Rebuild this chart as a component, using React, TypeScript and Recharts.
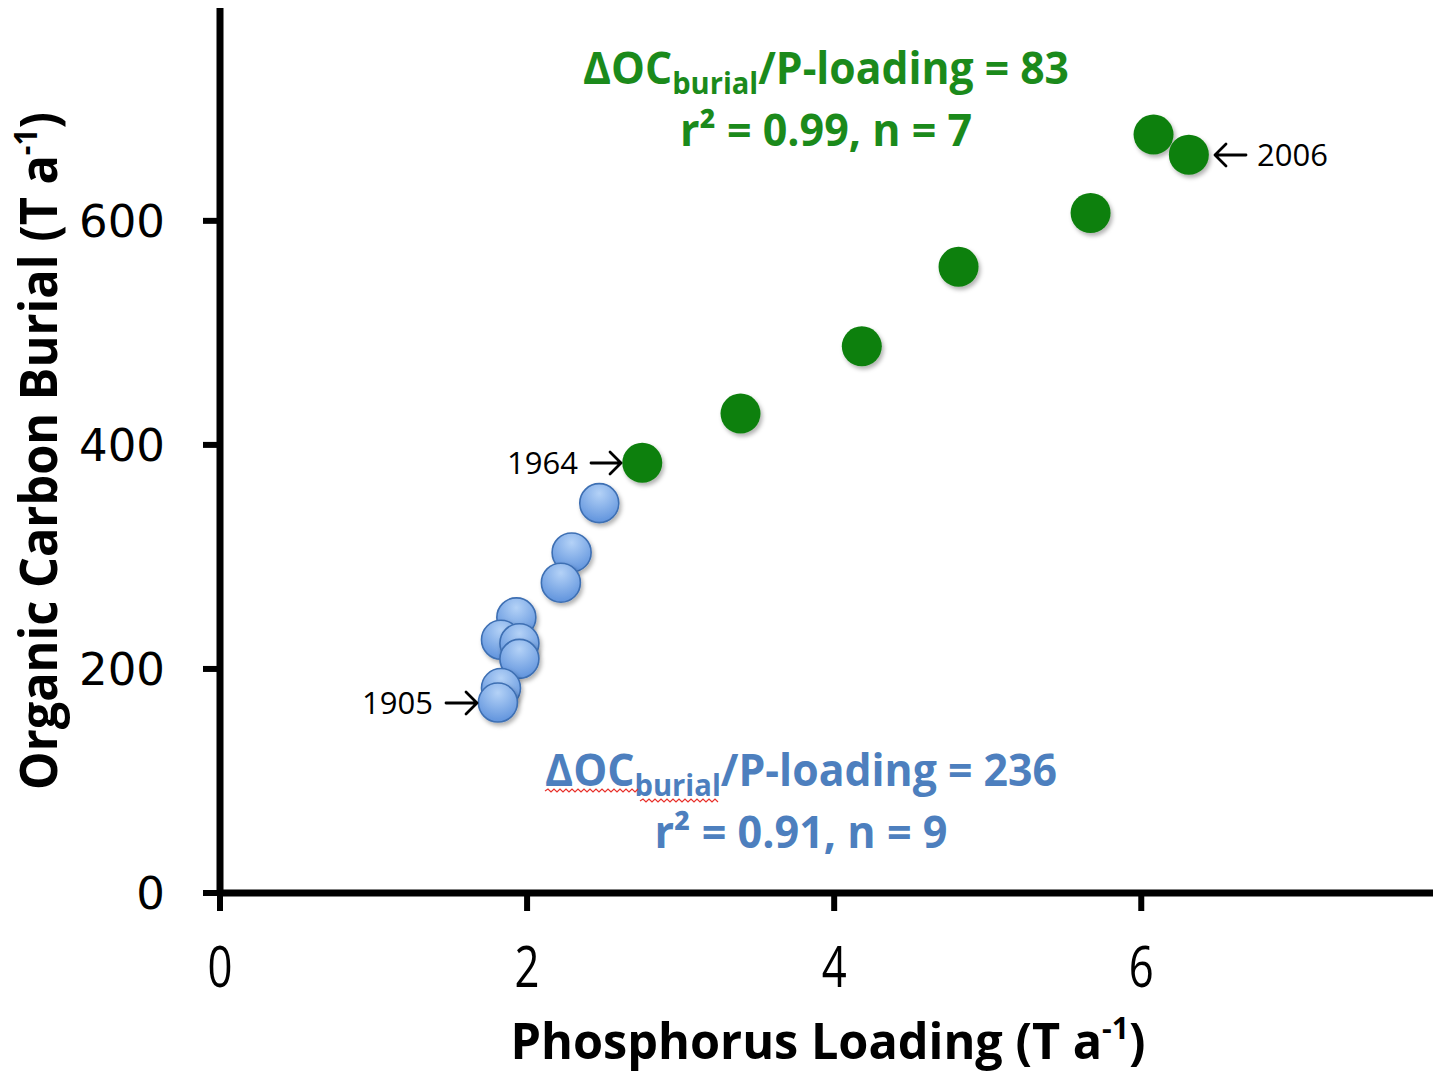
import React from 'react';
import { ScatterChart, Scatter, XAxis, YAxis } from 'recharts';

// Pre-1964 period (blue), drawn from highest to lowest value
const blueX = [2.47, 2.29, 2.22, 1.93, 1.83, 1.95, 1.95, 1.83, 1.81];
const blueY = [348, 304, 277, 246, 226, 223, 209, 183, 170];
// 1964-2006 period (green)
const greenX = [2.75, 3.39, 4.18, 4.81, 5.67, 6.08, 6.31];
const greenY = [384, 428, 488, 559, 607, 677, 659];

const xTicks = [0, 2, 4, 6];
const yTicks = [0, 200, 400, 600];

const blueData = blueX.map((x, i) => ({ x, y: blueY[i] }));
const greenData = greenX.map((x, i) => ({ x, y: greenY[i] }));

const GREEN = '#118011';
const GREEN_TEXT = '#1b8a1b';
const BLUE_TEXT = '#4d7fbe';

const BlueDot = (p: any) => (
  <circle cx={p.cx} cy={p.cy} r={19.5} fill="url(#blueGrad)" stroke="#3e6fb3" strokeWidth={1.6} filter="url(#softShadow)" />
);
const GreenDot = (p: any) => (
  <circle cx={p.cx} cy={p.cy} r={20} fill={GREEN} filter="url(#softShadow)" />
);

const XTick = (p: any) => (
  <g transform={`translate(${p.x},${p.y + 76})`}>
    <text x={0} y={0} transform="scale(0.78,1)" textAnchor="middle" fontFamily="'Open Sans', sans-serif" fontSize={56} fill="#000">
      {p.payload.value}
    </text>
  </g>
);
const YTick = (p: any) => (
  <text x={p.x} y={p.y} dy={16} textAnchor="end" fontFamily="'DejaVu Sans', sans-serif" fontSize={45} fill="#000">
    {p.payload.value}
  </text>
);

function wavy(x0: number, x1: number, y: number) {
  let d = `M${x0},${y}`;
  let up = true;
  for (let x = x0 + 3; x <= x1; x += 3) {
    d += ` L${x},${up ? y - 2 : y + 1}`;
    up = !up;
  }
  return d;
}

// open arrow from (x0,y) to (x1,y); head at x1
function arrow(x0: number, x1: number, y: number) {
  const dir = x1 > x0 ? 1 : -1;
  const hx = x1 - dir * 11;
  return `M${x0},${y} L${x1},${y} M${hx},${y - 11} L${x1},${y} L${hx},${y + 11}`;
}

const boldFont = "'Open Sans', 'Noto Sans', sans-serif";
const yearFont = "'Open Sans', 'Noto Sans', sans-serif";

export default function App() {
  return (
    <div style={{ position: 'absolute', left: 0, top: 0, width: 1439, height: 1074, background: '#fff' }}>
      <ScatterChart width={1439} height={1074} margin={{ top: 8, right: 6, bottom: 0, left: 0 }}>
        <defs>
          <radialGradient id="blueGrad" cx="50%" cy="25%" r="80%">
            <stop offset="0%" stopColor="#b4d2f7" />
            <stop offset="100%" stopColor="#5a8fdb" />
          </radialGradient>
          <filter id="softShadow" x="-30%" y="-30%" width="170%" height="170%">
            <feDropShadow dx="2" dy="3" stdDeviation="2" floodColor="#000" floodOpacity="0.3" />
          </filter>
        </defs>
        <XAxis
          type="number"
          dataKey="x"
          domain={[0, 7.9]}
          ticks={xTicks}
          height={181}
          tickSize={18}
          tickMargin={0}
          axisLine={{ stroke: '#000', strokeWidth: 7 }}
          tickLine={{ stroke: '#000', strokeWidth: 6 }}
          tick={<XTick />}
          allowDataOverflow
        />
        <YAxis
          type="number"
          dataKey="y"
          domain={[0, 790]}
          ticks={yTicks}
          width={220}
          tickSize={17}
          tickMargin={38}
          axisLine={{ stroke: '#000', strokeWidth: 7 }}
          tickLine={{ stroke: '#000', strokeWidth: 6 }}
          tick={<YTick />}
          allowDataOverflow
        />
        <Scatter data={blueData} shape={BlueDot} isAnimationActive={false} />
        <Scatter data={greenData} shape={GreenDot} isAnimationActive={false} />
      </ScatterChart>
      <svg width={1439} height={1074} style={{ position: 'absolute', left: 0, top: 0, pointerEvents: 'none' }}>
        {/* Axis titles */}
        <text
          transform="translate(57,451) rotate(-90)"
          textAnchor="middle"
          fontFamily={boldFont}
          fontWeight={700}
          fontSize={52}
          fill="#000"
          textLength={678}
          lengthAdjust="spacingAndGlyphs"
        >
          Organic Carbon Burial (T a<tspan dy={-20} fontSize={32}>-1</tspan><tspan dy={20} fontSize={52}>)</tspan>
        </text>
        <text
          x={828}
          y={1059}
          textAnchor="middle"
          fontFamily={boldFont}
          fontWeight={700}
          fontSize={50}
          fill="#000"
          textLength={635}
          lengthAdjust="spacingAndGlyphs"
        >
          Phosphorus Loading (T a<tspan dy={-20} fontSize={31}>-1</tspan><tspan dy={20} fontSize={50}>)</tspan>
        </text>

        {/* Green regression annotation */}
        <text x={826} y={84} textAnchor="middle" fontFamily={boldFont} fontWeight={700} fontSize={44} fill={GREEN_TEXT} textLength={486} lengthAdjust="spacingAndGlyphs">
          ΔOC<tspan dy={10} fontSize={30}>burial</tspan><tspan dy={-10} fontSize={44}>/P-loading = 83</tspan>
        </text>
        <text x={826} y={146} textAnchor="middle" fontFamily={boldFont} fontWeight={700} fontSize={44} fill={GREEN_TEXT} textLength={292} lengthAdjust="spacingAndGlyphs">
          r² = 0.99, n = 7
        </text>

        {/* Blue regression annotation */}
        <text x={801} y={786} textAnchor="middle" fontFamily={boldFont} fontWeight={700} fontSize={44} fill={BLUE_TEXT} textLength={512} lengthAdjust="spacingAndGlyphs">
          ΔOC<tspan dy={10} fontSize={30}>burial</tspan><tspan dy={-10} fontSize={44}>/P-loading = 236</tspan>
        </text>
        <path d={wavy(545, 638, 791)} fill="none" stroke="#e8302a" strokeWidth={1.2} />
        <path d={wavy(640, 718, 801)} fill="none" stroke="#e8302a" strokeWidth={1.2} />
        <text x={801} y={848} textAnchor="middle" fontFamily={boldFont} fontWeight={700} fontSize={44} fill={BLUE_TEXT} textLength={293} lengthAdjust="spacingAndGlyphs">
          r² = 0.91, n = 9
        </text>

        {/* Year labels */}
        <text x={578} y={474} textAnchor="end" fontFamily={yearFont} fontSize={31} fill="#000">1964</text>
        <path d={arrow(591, 621, 463)} fill="none" stroke="#000" strokeWidth={2.8} strokeLinecap="round" strokeLinejoin="round" />
        <text x={433} y={714} textAnchor="end" fontFamily={yearFont} fontSize={31} fill="#000">1905</text>
        <path d={arrow(446, 477, 703)} fill="none" stroke="#000" strokeWidth={2.8} strokeLinecap="round" strokeLinejoin="round" />
        <path d={arrow(1246, 1215, 155)} fill="none" stroke="#000" strokeWidth={2.8} strokeLinecap="round" strokeLinejoin="round" />
        <text x={1257} y={166} textAnchor="start" fontFamily={yearFont} fontSize={31} fill="#000">2006</text>
      </svg>
    </div>
  );
}
